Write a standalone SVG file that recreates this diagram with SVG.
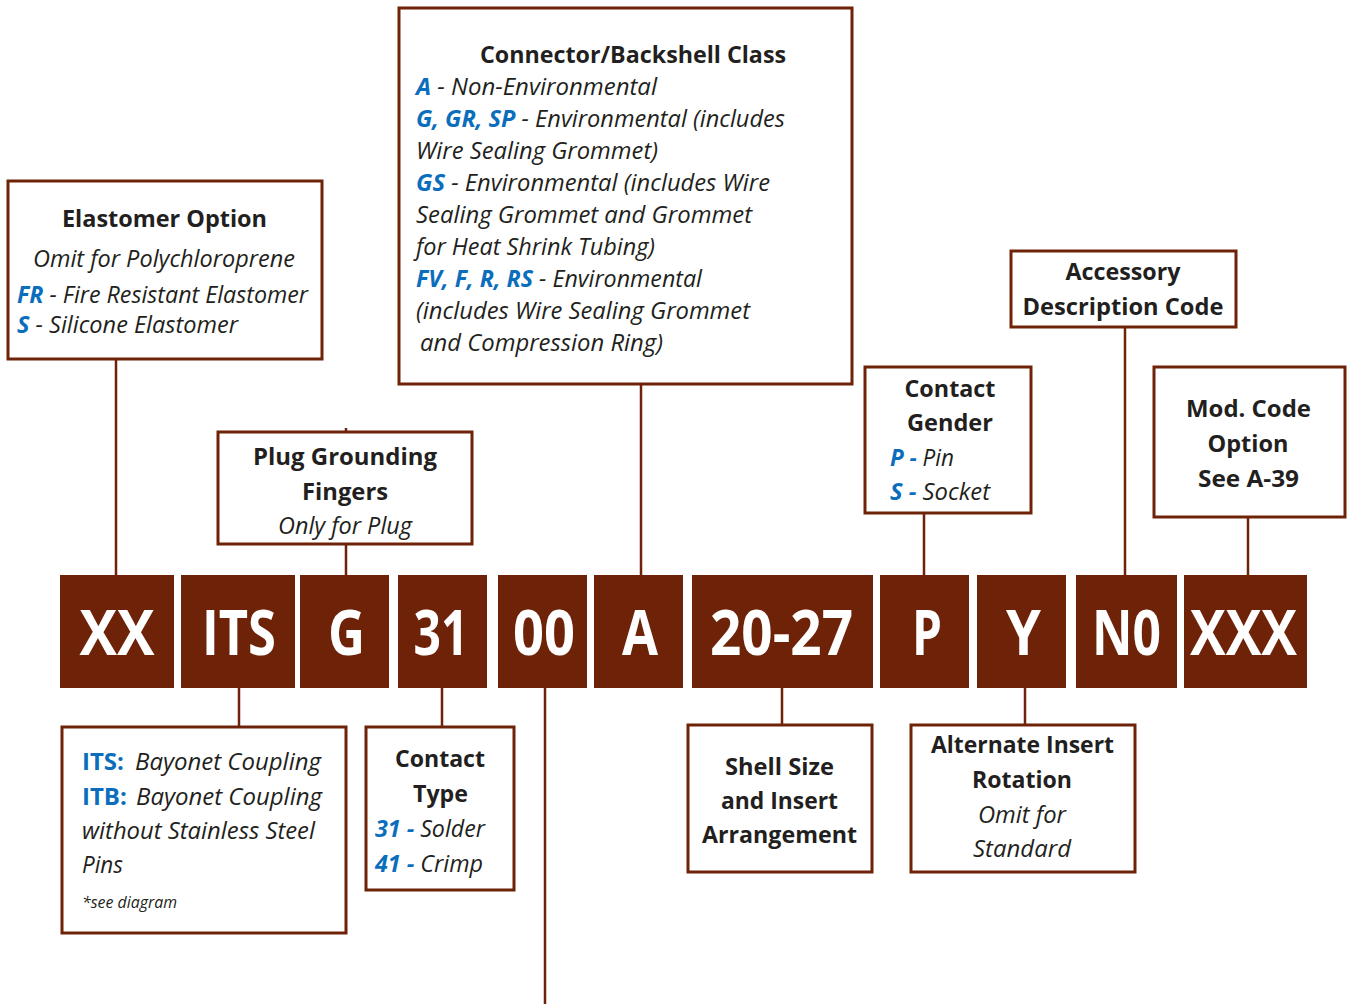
<svg xmlns="http://www.w3.org/2000/svg" width="1348" height="1004" viewBox="0 0 1348 1004">
<style>
.box{fill:#fff;stroke:#6e2308;stroke-width:3}
.blk{fill:#6e2308}
.bt{font-family:"Open Sans","Noto Sans",sans-serif;font-weight:700;font-size:62px;fill:#fff;text-anchor:middle}
.t{font-family:"Open Sans","Noto Sans",sans-serif;font-size:24px;fill:#231f20}
.b{font-weight:700}
.i{font-style:italic}
.c{text-anchor:middle}
.bl{fill:#0a6ebd;font-weight:700;font-style:italic}
.bn{fill:#0a6ebd;font-weight:700;font-style:normal}
.ln{stroke:#6e2308;stroke-width:2.5;fill:none}
</style>
<g id="connectors">
<line class="ln" x1="116" y1="360" x2="116" y2="575"/>
<line class="ln" x1="346" y1="428" x2="346" y2="432"/>
<line class="ln" x1="346" y1="545" x2="346" y2="575"/>
<line class="ln" x1="641" y1="385" x2="641" y2="575"/>
<line class="ln" x1="924" y1="513" x2="924" y2="575"/>
<line class="ln" x1="1125" y1="328" x2="1125" y2="575"/>
<line class="ln" x1="1248" y1="518" x2="1248" y2="575"/>
<line class="ln" x1="239" y1="688" x2="239" y2="726"/>
<line class="ln" x1="442" y1="688" x2="442" y2="726"/>
<line class="ln" x1="545" y1="688" x2="545" y2="1004"/>
<line class="ln" x1="782" y1="688" x2="782" y2="724"/>
<line class="ln" x1="1025" y1="688" x2="1025" y2="724"/>
</g>
<g id="code-blocks">
<g id="blk-xx"><rect class="blk" x="60" y="575" width="114" height="113"/><text class="bt" x="117" y="655" textLength="75" lengthAdjust="spacingAndGlyphs">XX</text></g>
<g id="blk-its"><rect class="blk" x="181" y="575" width="114" height="113"/><text class="bt" x="239" y="655" textLength="74" lengthAdjust="spacingAndGlyphs">ITS</text></g>
<g id="blk-g"><rect class="blk" x="300" y="575" width="89" height="113"/><text class="bt" x="346.5" y="655" textLength="37" lengthAdjust="spacingAndGlyphs">G</text></g>
<g id="blk-31"><rect class="blk" x="398" y="575" width="89" height="113"/><text class="bt" x="441" y="655" textLength="55" lengthAdjust="spacingAndGlyphs">31</text></g>
<g id="blk-00"><rect class="blk" x="498" y="575" width="89" height="113"/><text class="bt" x="544" y="655" textLength="62" lengthAdjust="spacingAndGlyphs">00</text></g>
<g id="blk-a"><rect class="blk" x="594" y="575" width="89" height="113"/><text class="bt" x="640" y="655" textLength="36" lengthAdjust="spacingAndGlyphs">A</text></g>
<g id="blk-2027"><rect class="blk" x="692" y="575" width="181" height="113"/><text class="bt" x="781.5" y="655" textLength="143" lengthAdjust="spacingAndGlyphs">20-27</text></g>
<g id="blk-p"><rect class="blk" x="880" y="575" width="89" height="113"/><text class="bt" x="927" y="655" textLength="30" lengthAdjust="spacingAndGlyphs">P</text></g>
<g id="blk-y"><rect class="blk" x="977" y="575" width="89" height="113"/><text class="bt" x="1023.5" y="655" textLength="35" lengthAdjust="spacingAndGlyphs">Y</text></g>
<g id="blk-n0"><rect class="blk" x="1076" y="575" width="101" height="113"/><text class="bt" x="1126.5" y="655" textLength="69" lengthAdjust="spacingAndGlyphs">N0</text></g>
<g id="blk-xxx"><rect class="blk" x="1184" y="575" width="123" height="113"/><text class="bt" x="1243.5" y="655" textLength="107" lengthAdjust="spacingAndGlyphs">XXX</text></g>
</g>
<g id="elastomer">
<rect class="box" x="8" y="181" width="314" height="178"/>
<text class="t b c" x="164.5" y="227" textLength="205" lengthAdjust="spacingAndGlyphs">Elastomer Option</text>
<text class="t i c" x="164" y="267" textLength="262" lengthAdjust="spacingAndGlyphs">Omit for Polychloroprene</text>
<text class="t i" x="17" y="303" textLength="291" lengthAdjust="spacingAndGlyphs"><tspan class="bl">FR</tspan> - Fire Resistant Elastomer</text>
<text class="t i" x="17" y="333" textLength="221" lengthAdjust="spacingAndGlyphs"><tspan class="bl">S</tspan> - Silicone Elastomer</text>
</g>
<g id="plug-grounding">
<rect class="box" x="218" y="432" width="254" height="112"/>
<text class="t b c" x="345" y="465" textLength="184" lengthAdjust="spacingAndGlyphs">Plug Grounding</text>
<text class="t b c" x="345" y="500" textLength="86" lengthAdjust="spacingAndGlyphs">Fingers</text>
<text class="t i c" x="345" y="534" textLength="134" lengthAdjust="spacingAndGlyphs">Only for Plug</text>
</g>
<g id="connector-class">
<rect class="box" x="399" y="8" width="453" height="376"/>
<text class="t b c" x="633" y="63" textLength="306" lengthAdjust="spacingAndGlyphs">Connector/Backshell Class</text>
<text class="t i" x="416" y="95" textLength="241" lengthAdjust="spacingAndGlyphs"><tspan class="bl">A</tspan> - Non-Environmental</text>
<text class="t i" x="416" y="127" textLength="369" lengthAdjust="spacingAndGlyphs"><tspan class="bl">G, GR, SP</tspan> - Environmental (includes</text>
<text class="t i" x="416" y="159" textLength="242" lengthAdjust="spacingAndGlyphs">Wire Sealing Grommet)</text>
<text class="t i" x="416" y="191" textLength="354" lengthAdjust="spacingAndGlyphs"><tspan class="bl">GS</tspan> - Environmental (includes Wire</text>
<text class="t i" x="416" y="223" textLength="336" lengthAdjust="spacingAndGlyphs">Sealing Grommet and Grommet</text>
<text class="t i" x="416" y="255" textLength="239" lengthAdjust="spacingAndGlyphs">for Heat Shrink Tubing)</text>
<text class="t i" x="416" y="287" textLength="286" lengthAdjust="spacingAndGlyphs"><tspan class="bl">FV, F, R, RS</tspan> - Environmental</text>
<text class="t i" x="416" y="319" textLength="334" lengthAdjust="spacingAndGlyphs">(includes Wire Sealing Grommet</text>
<text class="t i" x="420" y="351" textLength="243" lengthAdjust="spacingAndGlyphs">and Compression Ring)</text>
</g>
<g id="contact-gender">
<rect class="box" x="865" y="367" width="166" height="146"/>
<text class="t b c" x="950" y="397" textLength="91" lengthAdjust="spacingAndGlyphs">Contact</text>
<text class="t b c" x="950" y="431" textLength="86" lengthAdjust="spacingAndGlyphs">Gender</text>
<text class="t i" x="890" y="466" textLength="64" lengthAdjust="spacingAndGlyphs"><tspan class="bl">P -</tspan> Pin</text>
<text class="t i" x="890" y="500" textLength="100" lengthAdjust="spacingAndGlyphs"><tspan class="bl">S -</tspan> Socket</text>
</g>
<g id="accessory">
<rect class="box" x="1011" y="251" width="225" height="76"/>
<text class="t b c" x="1123" y="280" textLength="115" lengthAdjust="spacingAndGlyphs">Accessory</text>
<text class="t b c" x="1123" y="315" textLength="201" lengthAdjust="spacingAndGlyphs">Description Code</text>
</g>
<g id="mod-code">
<rect class="box" x="1154" y="367" width="191" height="150"/>
<text class="t b c" x="1248.5" y="417" textLength="125" lengthAdjust="spacingAndGlyphs">Mod. Code</text>
<text class="t b c" x="1248" y="452" textLength="81" lengthAdjust="spacingAndGlyphs">Option</text>
<text class="t b c" x="1248.5" y="487" textLength="101" lengthAdjust="spacingAndGlyphs">See A-39</text>
</g>
<g id="its-itb">
<rect class="box" x="62" y="727" width="284" height="206"/>
<text class="t i" x="82" y="770"><tspan class="bn">ITS:</tspan><tspan x="135" textLength="186" lengthAdjust="spacingAndGlyphs">Bayonet Coupling</tspan></text>
<text class="t i" x="82" y="805"><tspan class="bn">ITB:</tspan><tspan x="136" textLength="186" lengthAdjust="spacingAndGlyphs">Bayonet Coupling</tspan></text>
<text class="t i" x="82" y="839" textLength="233" lengthAdjust="spacingAndGlyphs">without Stainless Steel</text>
<text class="t i" x="82" y="873" textLength="41" lengthAdjust="spacingAndGlyphs">Pins</text>
<text class="t i" x="82" y="908" style="font-size:16px" textLength="95" lengthAdjust="spacingAndGlyphs">*see diagram</text>
</g>
<g id="contact-type">
<rect class="box" x="366" y="727" width="148" height="163"/>
<text class="t b c" x="440" y="767" textLength="90" lengthAdjust="spacingAndGlyphs">Contact</text>
<text class="t b c" x="440.5" y="802" textLength="55" lengthAdjust="spacingAndGlyphs">Type</text>
<text class="t i" x="375" y="837" textLength="110" lengthAdjust="spacingAndGlyphs"><tspan class="bl">31 -</tspan> Solder</text>
<text class="t i" x="375" y="872" textLength="108" lengthAdjust="spacingAndGlyphs"><tspan class="bl">41 -</tspan> Crimp</text>
</g>
<g id="shell-size">
<rect class="box" x="688" y="725" width="184" height="147"/>
<text class="t b c" x="779.5" y="775" textLength="109" lengthAdjust="spacingAndGlyphs">Shell Size</text>
<text class="t b c" x="779.5" y="809" textLength="117" lengthAdjust="spacingAndGlyphs">and Insert</text>
<text class="t b c" x="779.5" y="843" textLength="155" lengthAdjust="spacingAndGlyphs">Arrangement</text>
</g>
<g id="alternate-rotation">
<rect class="box" x="911" y="725" width="224" height="147"/>
<text class="t b c" x="1022.5" y="753" textLength="183" lengthAdjust="spacingAndGlyphs">Alternate Insert</text>
<text class="t b c" x="1022" y="788" textLength="100" lengthAdjust="spacingAndGlyphs">Rotation</text>
<text class="t i c" x="1022" y="823" textLength="88" lengthAdjust="spacingAndGlyphs">Omit for</text>
<text class="t i c" x="1022" y="857" textLength="98" lengthAdjust="spacingAndGlyphs">Standard</text>
</g>
</svg>
